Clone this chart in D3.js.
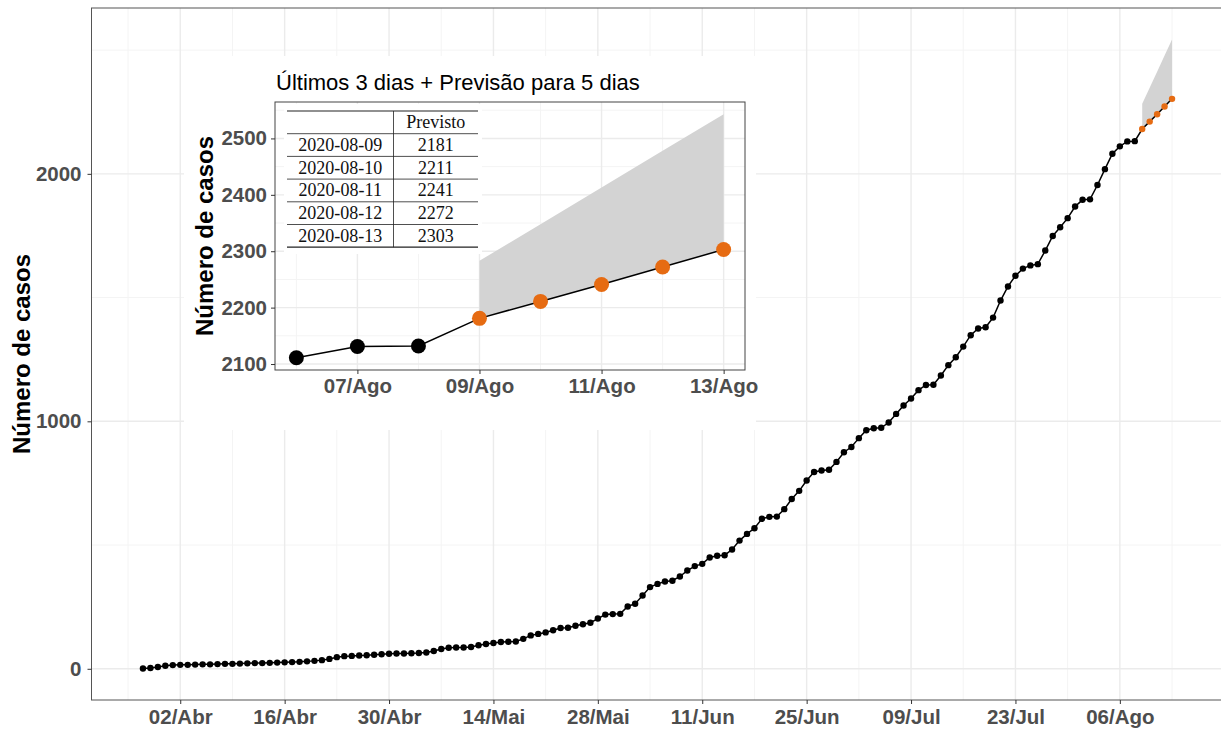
<!DOCTYPE html>
<html>
<head>
<meta charset="utf-8">
<script src="https://cdn.jsdelivr.net/npm/d3@7"></script>
<style>
  html, body { margin: 0; padding: 0; background: #ffffff; }
  svg { display: block; }
</style>
</head>
<body>
<svg id="chart" width="1221" height="729"></svg>
<script>
// ---------------- DATA ----------------
const startDate = "2020-03-28";
const casos = [
  1, 3, 7, 12, 15, 16, 16, 17, 18, 18,
  19, 20, 20, 21, 22, 23, 23, 24, 25, 26,
  27, 28, 30, 32, 35, 40, 47, 51, 52, 54,
  55, 57, 59, 61, 62, 62, 63, 64, 66, 72,
  80, 85, 86, 86, 88, 95, 100, 104, 108, 109,
  110, 121, 135, 141, 147, 156, 165, 166, 174, 180,
  186, 203, 219, 221, 222, 252, 263, 296, 330, 343,
  353, 356, 373, 397, 415, 424, 450, 457, 459, 482,
  518, 545, 568, 606, 614, 615, 645, 686, 719, 761,
  795, 801, 804, 836, 875, 896, 932, 964, 972, 974,
  995, 1030, 1064, 1092, 1126, 1147, 1148, 1185, 1227, 1259,
  1302, 1348, 1375, 1380, 1419, 1488, 1545, 1588, 1617, 1630,
  1635, 1690, 1749, 1784, 1821, 1868, 1895, 1897, 1955, 2019,
  2081, 2111, 2131, 2132
];
const previsaoDatas = ["2020-08-09", "2020-08-10", "2020-08-11", "2020-08-12", "2020-08-13"];
const previsto = [2181, 2211, 2241, 2272, 2303];
const limiteSuperior = [2283, 2348, 2413, 2478, 2543];

const mainTickDates = ["2020-04-02", "2020-04-16", "2020-04-30", "2020-05-14", "2020-05-28",
                       "2020-06-11", "2020-06-25", "2020-07-09", "2020-07-23", "2020-08-06"];
const mainTickLabels = ["02/Abr", "16/Abr", "30/Abr", "14/Mai", "28/Mai",
                        "11/Jun", "25/Jun", "09/Jul", "23/Jul", "06/Ago"];
const mainYTicks = [0, 1000, 2000];

const insetTickDates = ["2020-08-07", "2020-08-09", "2020-08-11", "2020-08-13"];
const insetTickLabels = ["07/Ago", "09/Ago", "11/Ago", "13/Ago"];
const insetYTicks = [2100, 2200, 2300, 2400, 2500];
const ultimosDias = 3;

const titleInset = "Últimos 3 dias + Previsão para 5 dias";
const yTitle = "Número de casos";
const tableHeader = "Previsto";

// ---------------- HELPERS ----------------
const parse = d3.utcParse("%Y-%m-%d");
const t0 = parse(startDate);
const observed = casos.map((v, i) => ({ date: d3.utcDay.offset(t0, i), value: v }));
const forecast = previsaoDatas.map((d, i) => ({ date: parse(d), value: previsto[i], upper: limiteSuperior[i] }));

const FONT = "'Liberation Sans', Arial, Helvetica, sans-serif";
const SERIF = "'Liberation Serif', 'Times New Roman', serif";
const TICK_COLOR = "#4d4d4d";
const ORANGE = "#e66b12";
const BAND = "#d3d3d3";
const GRID_MAJOR = "#ebebeb";
const GRID_MINOR = "#f4f4f4";
const TICK_FS = 20.5;
const TITLE_FS = 24;

function expand(lo, hi, f) { const s = (hi - lo) * f; return [lo - s, hi + s]; }
function expandDate(lo, hi, f) { const s = (hi - lo) * f; return [new Date(+lo - s), new Date(+hi + s)]; }

const svg = d3.select("#chart");

// ---------------- MAIN PLOT ----------------
const P = { left: 91.5, right: 1223.5, top: 8, bottom: 700 };
const allMax = d3.max(limiteSuperior);
const allMin = d3.min(casos);
const x = d3.scaleUtc()
  .domain(expandDate(observed[0].date, forecast[forecast.length - 1].date, 0.05))
  .range([P.left, P.right]);
const y = d3.scaleLinear()
  .domain(expand(allMin, allMax, 0.05))
  .range([P.bottom, P.top]);

const main = svg.append("g");
main.append("rect").attr("x", P.left).attr("y", P.top)
  .attr("width", P.right - P.left).attr("height", P.bottom - P.top).attr("fill", "#fff");

// grid
const majorDates = mainTickDates.map(parse);
const minorDates = [];
for (let i = -1; i < majorDates.length; i++) {
  const base = i < 0 ? d3.utcDay.offset(majorDates[0], -14) : majorDates[i];
  minorDates.push(d3.utcDay.offset(base, 7));
}
const yMinor = mainYTicks.map(v => v + 500);

main.selectAll(".vminor").data(minorDates).join("line")
  .attr("x1", d => x(d)).attr("x2", d => x(d)).attr("y1", P.top).attr("y2", P.bottom)
  .attr("stroke", GRID_MINOR).attr("stroke-width", 1);
main.selectAll(".hminor").data(yMinor.filter(v => y(v) > P.top)).join("line")
  .attr("x1", P.left).attr("x2", P.right).attr("y1", d => y(d)).attr("y2", d => y(d))
  .attr("stroke", GRID_MINOR).attr("stroke-width", 1);
main.selectAll(".vmajor").data(majorDates).join("line")
  .attr("x1", d => x(d)).attr("x2", d => x(d)).attr("y1", P.top).attr("y2", P.bottom)
  .attr("stroke", GRID_MAJOR).attr("stroke-width", 1.4);
main.selectAll(".hmajor").data(mainYTicks).join("line")
  .attr("x1", P.left).attr("x2", P.right).attr("y1", d => y(d)).attr("y2", d => y(d))
  .attr("stroke", GRID_MAJOR).attr("stroke-width", 1.4);

// band
const area = d3.area().x(d => x(d.date)).y0(d => y(d.value)).y1(d => y(d.upper));
main.append("path").datum(forecast).attr("d", area).attr("fill", BAND);

// line + points
const lineData = observed.concat(forecast);
const line = d3.line().x(d => x(d.date)).y(d => y(d.value));
main.append("path").datum(lineData).attr("d", line)
  .attr("fill", "none").attr("stroke", "#000").attr("stroke-width", 1.5);
main.selectAll(".pt").data(observed).join("circle")
  .attr("cx", d => x(d.date)).attr("cy", d => y(d.value)).attr("r", 3.2).attr("fill", "#000");
main.selectAll(".fpt").data(forecast).join("circle")
  .attr("cx", d => x(d.date)).attr("cy", d => y(d.value)).attr("r", 3.2).attr("fill", ORANGE);

// panel border
main.append("rect").attr("x", P.left).attr("y", P.top)
  .attr("width", P.right - P.left).attr("height", P.bottom - P.top)
  .attr("fill", "none").attr("stroke", "#555").attr("stroke-width", 1);

// axes
const xAxis = d3.axisBottom(x).tickValues(majorDates)
  .tickFormat((d, i) => mainTickLabels[i]).tickSize(4).tickPadding(5);
const gx = main.append("g").attr("transform", `translate(0,${P.bottom})`).call(xAxis);
gx.select(".domain").remove();
gx.selectAll(".tick line").attr("stroke", "#333");
gx.selectAll(".tick text").attr("fill", TICK_COLOR).attr("font-family", FONT)
  .attr("font-size", TICK_FS).attr("font-weight", "bold");

const yAxis = d3.axisLeft(y).tickValues(mainYTicks).tickFormat(d3.format("d")).tickSize(4).tickPadding(6);
const gy = main.append("g").attr("transform", `translate(${P.left},0)`).call(yAxis);
gy.select(".domain").remove();
gy.selectAll(".tick line").attr("stroke", "#333");
gy.selectAll(".tick text").attr("fill", TICK_COLOR).attr("font-family", FONT)
  .attr("font-size", TICK_FS).attr("font-weight", "bold");

main.append("text")
  .attr("transform", `translate(30,${(P.top + P.bottom) / 2}) rotate(-90)`)
  .attr("text-anchor", "middle").attr("font-family", FONT).attr("font-weight", "bold")
  .attr("font-size", TITLE_FS).attr("fill", "#000").text(yTitle);

// ---------------- INSET ----------------
const box = { x: 184, y: 56, w: 572, h: 374 };
const I = { left: 275, right: 745, top: 102, bottom: 370 };
const inset = svg.append("g");
inset.append("rect").attr("x", box.x).attr("y", box.y).attr("width", box.w).attr("height", box.h).attr("fill", "#fff");

const lastObs = observed.slice(-ultimosDias);
const insetData = lastObs.concat(forecast);
const xi = d3.scaleUtc()
  .domain(expandDate(lastObs[0].date, forecast[forecast.length - 1].date, 0.05))
  .range([I.left, I.right]);
const yi = d3.scaleLinear()
  .domain(expand(d3.min(insetData, d => d.value), d3.max(limiteSuperior), 0.05))
  .range([I.bottom, I.top]);

const iMajorX = insetTickDates.map(parse);
const iMinorX = iMajorX.map(d => d3.utcDay.offset(d, -1));
const iMinorY = insetYTicks.map(v => v + 50).filter(v => yi(v) > I.top);

inset.selectAll(".ivmin").data(iMinorX).join("line")
  .attr("x1", d => xi(d)).attr("x2", d => xi(d)).attr("y1", I.top).attr("y2", I.bottom)
  .attr("stroke", GRID_MINOR).attr("stroke-width", 1);
inset.selectAll(".ihmin").data(iMinorY).join("line")
  .attr("x1", I.left).attr("x2", I.right).attr("y1", d => yi(d)).attr("y2", d => yi(d))
  .attr("stroke", GRID_MINOR).attr("stroke-width", 1);
inset.selectAll(".ivmaj").data(iMajorX).join("line")
  .attr("x1", d => xi(d)).attr("x2", d => xi(d)).attr("y1", I.top).attr("y2", I.bottom)
  .attr("stroke", GRID_MAJOR).attr("stroke-width", 1.4);
inset.selectAll(".ihmaj").data(insetYTicks).join("line")
  .attr("x1", I.left).attr("x2", I.right).attr("y1", d => yi(d)).attr("y2", d => yi(d))
  .attr("stroke", GRID_MAJOR).attr("stroke-width", 1.4);

const areaI = d3.area().x(d => xi(d.date)).y0(d => yi(d.value)).y1(d => yi(d.upper));
inset.append("path").datum(forecast).attr("d", areaI).attr("fill", BAND);
const lineI = d3.line().x(d => xi(d.date)).y(d => yi(d.value));
inset.append("path").datum(insetData).attr("d", lineI)
  .attr("fill", "none").attr("stroke", "#000").attr("stroke-width", 1.5);
inset.selectAll(".ipt").data(lastObs).join("circle")
  .attr("cx", d => xi(d.date)).attr("cy", d => yi(d.value)).attr("r", 7.5).attr("fill", "#000");
inset.selectAll(".ifpt").data(forecast).join("circle")
  .attr("cx", d => xi(d.date)).attr("cy", d => yi(d.value)).attr("r", 7.5).attr("fill", ORANGE);

// table
const T = { x0: 287, x1: 478, xDiv: 393.5, top: 111, rowH: 22.7, bg: [284, 104, 198, 150] };
inset.append("rect").attr("x", T.bg[0]).attr("y", T.bg[1]).attr("width", T.bg[2]).attr("height", T.bg[3]).attr("fill", "#fff");
const nRows = previsto.length + 1;
const ruleYs = d3.range(nRows + 1).map(i => T.top + i * T.rowH);
inset.selectAll(".rule").data(ruleYs).join("line")
  .attr("x1", T.x0).attr("x2", T.x1).attr("y1", d => d).attr("y2", d => d)
  .attr("stroke", "#222").attr("stroke-width", (d, i) => (i === 0 || i === nRows) ? 1.2 : 0.8);
inset.append("line").attr("x1", T.xDiv).attr("x2", T.xDiv)
  .attr("y1", ruleYs[0]).attr("y2", ruleYs[nRows]).attr("stroke", "#222").attr("stroke-width", 0.8);
const cellText = [["", tableHeader]].concat(previsaoDatas.map((d, i) => [d, String(previsto[i])]));
cellText.forEach((row, r) => {
  const cy = T.top + (r + 0.5) * T.rowH + 6;
  inset.append("text").attr("x", (T.x0 + T.xDiv) / 2).attr("y", cy).attr("text-anchor", "middle")
    .attr("font-family", SERIF).attr("font-size", 18).attr("fill", "#111").text(row[0]);
  inset.append("text").attr("x", (T.xDiv + T.x1) / 2).attr("y", cy).attr("text-anchor", "middle")
    .attr("font-family", SERIF).attr("font-size", 18).attr("fill", "#111").text(row[1]);
});

// inset border
inset.append("rect").attr("x", I.left).attr("y", I.top)
  .attr("width", I.right - I.left).attr("height", I.bottom - I.top)
  .attr("fill", "none").attr("stroke", "#444").attr("stroke-width", 1);

const xAxisI = d3.axisBottom(xi).tickValues(iMajorX)
  .tickFormat((d, i) => insetTickLabels[i]).tickSize(4).tickPadding(4);
const gxi = inset.append("g").attr("transform", `translate(0,${I.bottom})`).call(xAxisI);
gxi.select(".domain").remove();
gxi.selectAll(".tick line").attr("stroke", "#333");
gxi.selectAll(".tick text").attr("fill", TICK_COLOR).attr("font-family", FONT)
  .attr("font-size", TICK_FS).attr("font-weight", "bold");

const yAxisI = d3.axisLeft(yi).tickValues(insetYTicks).tickFormat(d3.format("d")).tickSize(4).tickPadding(4);
const gyi = inset.append("g").attr("transform", `translate(${I.left},0)`).call(yAxisI);
gyi.select(".domain").remove();
gyi.selectAll(".tick line").attr("stroke", "#333");
gyi.selectAll(".tick text").attr("fill", TICK_COLOR).attr("font-family", FONT)
  .attr("font-size", TICK_FS).attr("font-weight", "bold");

inset.append("text")
  .attr("transform", `translate(213,${(I.top + I.bottom) / 2}) rotate(-90)`)
  .attr("text-anchor", "middle").attr("font-family", FONT).attr("font-weight", "bold")
  .attr("font-size", TITLE_FS).attr("fill", "#000").text(yTitle);

inset.append("text").attr("x", I.left + 1).attr("y", 90)
  .attr("font-family", FONT).attr("font-size", 22).attr("fill", "#000").text(titleInset);
</script>
</body>
</html>
